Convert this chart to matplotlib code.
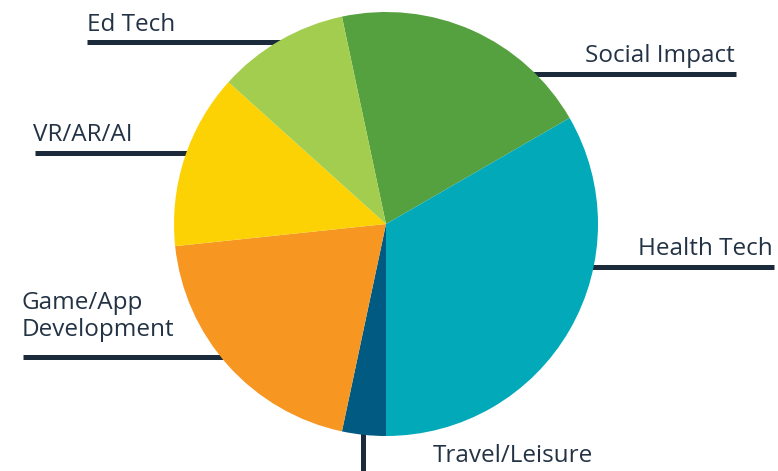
import matplotlib.pyplot as plt

# slice counts (clockwise from the Ed Tech / Social Impact boundary)
categories = ["Social Impact", "Health Tech", "Travel/Leisure",
              "Game/App\nDevelopment", "VR/AR/AI", "Ed Tech"]
counts = [12, 20, 2, 12, 8, 6]
colors = ["#55a03f", "#02a9b8", "#015a82", "#f79621", "#fdd205", "#a3cd4e"]

W, H = 778, 471
INK = "#1c2b3b"
TXT = "#233345"

fig = plt.figure(figsize=(W / 100, H / 100), dpi=100)
ax = fig.add_axes([0, 0, 1, 1])

# pie in pixel-like coordinates (y measured from bottom)
cx, cy, r = 386, H - 224, 212
ax.pie(counts, colors=colors, startangle=102, counterclock=False,
       center=(cx, cy), radius=r, wedgeprops=dict(linewidth=0, zorder=3))

def py(y):
    return H - y

# leader lines: (x0, x1, y) in image pixels, tucked just under the pie edge
leaders = {
    "Ed Tech": (87, 300, 42),
    "VR/AR/AI": (35, 200, 153),
    "Social Impact": (520, 736, 74),
    "Health Tech": (580, 774, 267),
    "Game/App\nDevelopment": (23, 235, 357),
}
for name, (x0, x1, y) in leaders.items():
    ax.plot([x0, x1], [py(y), py(y)], color=INK, lw=3.6,
            solid_capstyle="butt", zorder=1)
# Travel/Leisure vertical leader
ax.plot([363, 363], [py(471), py(420)], color=INK, lw=3.6,
        solid_capstyle="butt", zorder=1)

font = dict(fontsize=17.5, color=TXT, family="Open Sans")
ax.text(87, py(31), "Ed Tech", ha="left", va="baseline", **font)
ax.text(33, py(141), "VR/AR/AI", ha="left", va="baseline", **font)
ax.text(735, py(62), "Social Impact", ha="right", va="baseline", **font)
ax.text(773, py(255), "Health Tech", ha="right", va="baseline", **font)
ax.text(22, py(336), "Game/App\nDevelopment", ha="left", va="baseline",
        linespacing=1.15, **font)
ax.text(433, py(462), "Travel/Leisure", ha="left", va="baseline", **font)

ax.set_xlim(0, W)
ax.set_ylim(0, H)
ax.set_aspect("equal")
ax.axis("off")

fig.savefig("out.png", dpi=100)
